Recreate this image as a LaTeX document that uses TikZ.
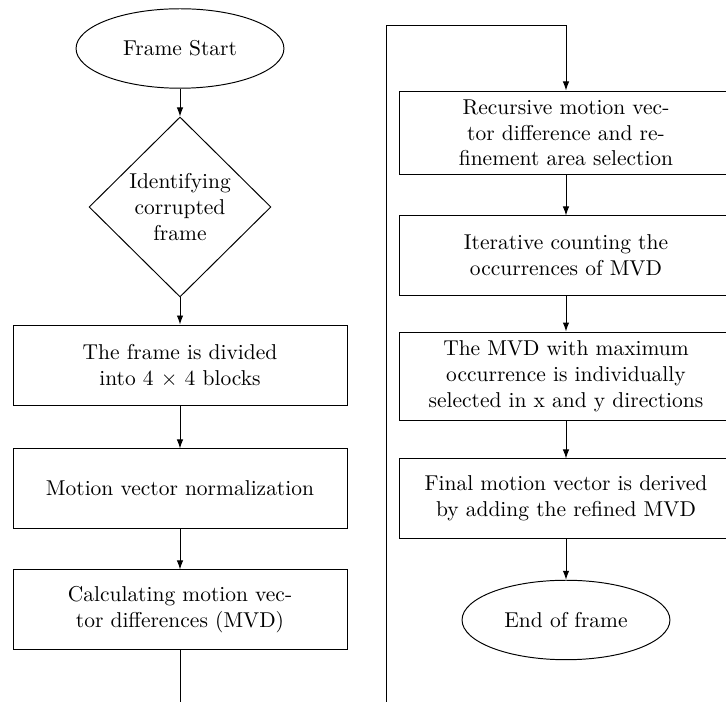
\documentclass[tikz,border=0pt]{standalone}
\usetikzlibrary{shapes.geometric,arrows.meta}
\begin{document}
\begin{tikzpicture}[
  x=0.4656pt, y=-0.4656pt,
  line width=0.45pt,
  flow/.style={-{Latex[length=4.2pt,width=3pt]}},
  procbox/.style={draw, rectangle, align=center, inner sep=2pt,
    minimum width=155.5pt},
  terminal/.style={draw, ellipse, align=center, inner sep=0pt,
    minimum width=96.8pt, minimum height=37pt},
  decision/.style={draw, diamond, align=center, inner sep=0pt,
    minimum width=84.7pt, minimum height=83.8pt}
]
\useasboundingbox (0,0) rectangle (726,702);
\clip (0,0) rectangle (726,702);

% left column
\node[terminal] (start) at (180,48.5) {Frame Start};
\node[decision] (ident) at (180,207) {Identifying\\corrupted\\frame};
\node[procbox, minimum height=37.7pt] (divide) at (180,365.5)
  {The frame is divided\\into 4 $\times$ 4 blocks};
\node[procbox, minimum height=36.8pt] (norm) at (180,488.5)
  {Motion vector normalization};
\node[procbox, minimum height=36.8pt] (calc) at (180,609.5)
  {Calculating motion vec-\\tor differences (MVD)};
\coordinate (leftout) at (180,703);

% right column
\coordinate (rightin) at (386,703);
\coordinate (turnA) at (386,25);
\coordinate (turnB) at (566,25);
\node[procbox, minimum height=39.1pt] (recur) at (566,133)
  {Recursive motion vec-\\tor difference and re-\\finement area selection};
\node[procbox, minimum height=36.8pt] (count) at (566,255.5)
  {Iterative counting the\\occurrences of MVD};
\node[procbox, minimum height=41.4pt] (select) at (566,376.5)
  {The MVD with maximum\\occurrence is individually\\selected in x and y directions};
\node[procbox, minimum height=36.8pt] (final) at (566,498.5)
  {Final motion vector is derived\\by adding the refined MVD};
\node[terminal] (finish) at (566,620) {End of frame};

% connectors
\draw[flow] (start) -- (ident);
\draw[flow] (ident) -- (divide);
\draw[flow] (divide) -- (norm);
\draw[flow] (norm) -- (calc);
\draw (calc.south) -- (leftout);
\draw[flow] (rightin) -- (turnA) -- (turnB) -- (recur.north);
\draw[flow] (recur) -- (count);
\draw[flow] (count) -- (select);
\draw[flow] (select) -- (final);
\draw[flow] (final) -- (finish);
\end{tikzpicture}
\end{document}
